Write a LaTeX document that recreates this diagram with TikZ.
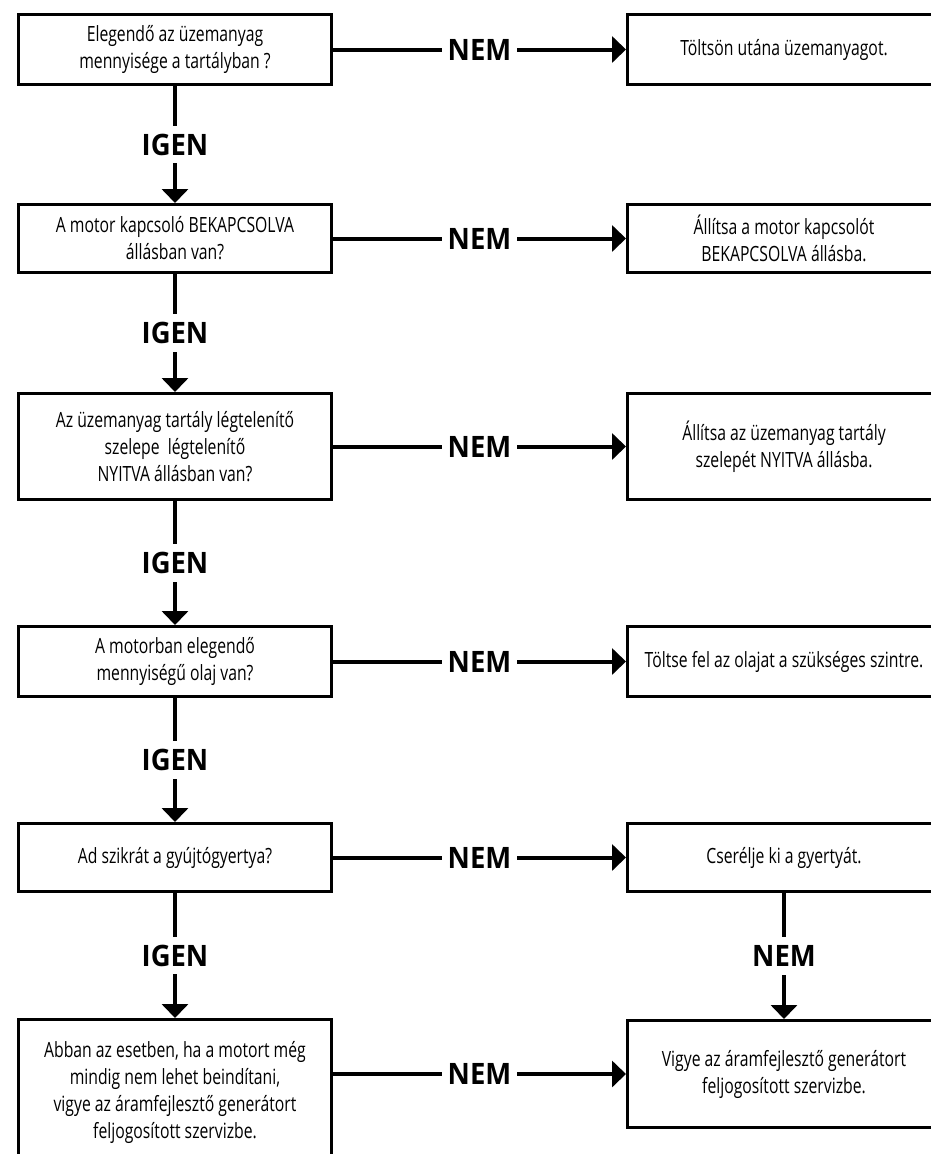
\documentclass[tikz,border=0pt]{standalone}
\usepackage{fontspec}
\setmainfont{Open Sans}
\newfontfamily\condfont[FakeStretch=0.75]{Open Sans}
\newfontfamily\boldcond[FakeStretch=0.93]{Open Sans Bold}
\usetikzlibrary{arrows.meta}
\begin{document}
\begin{tikzpicture}[x=1pt,y=-1pt,
  box/.style={draw,line width=3pt,minimum width=313pt,align=center,inner sep=0pt,
    font=\condfont\fontsize{21}{27}\selectfont},
  arr/.style={line width=4pt,-{Triangle[width=26pt,length=14pt]}},
  lbl/.style={fill=white,font=\boldcond\fontsize{29.5}{29.5}\selectfont,inner xsep=6pt,inner ysep=8pt}]
\useasboundingbox (0,0) rectangle (930,1154);
% left column
\node[box,minimum height=70pt] (L1) at (175,49.5) {Elegendő az üzemanyag\\mennyisége a tartályban ?};
\node[box,minimum height=68pt] (L2) at (175,238.5) {A motor kapcsoló BEKAPCSOLVA\\állásban van?};
\node[box,minimum height=106pt] (L3) at (175,446.5) {Az üzemanyag tartály légtelenítő\\szelepe\ \ légtelenítő\\NYITVA állásban van?};
\node[box,minimum height=70pt] (L4) at (175,661.5) {A motorban elegendő\\mennyiségű olaj van?};
\node[box,minimum height=68pt] (L5) at (175,857.5) {Ad szikrát a gyújtógyertya?};
\node[box,minimum height=145pt] (L6) at (175,1092) {Abban az esetben, ha a motort még\\mindig nem lehet beindítani,\\vigye az áramfejlesztő generátort\\feljogosított szervizbe.};
% right column
\node[box,minimum height=70pt] (R1) at (784,49.5) {Töltsön utána üzemanyagot.};
\node[box,minimum height=68pt] (R2) at (784,238.5) {Állítsa a motor kapcsolót\\BEKAPCSOLVA állásba.};
\node[box,minimum height=106pt] (R3) at (784,446.5) {Állítsa az üzemanyag tartály\\szelepét NYITVA állásba.};
\node[box,minimum height=70pt] (R4) at (784,661.5) {Töltse fel az olajat a szükséges szintre.};
\node[box,minimum height=68pt] (R5) at (784,857.5) {Cserélje ki a gyertyát.};
\node[box,minimum height=107pt] (R6) at (784,1074) {Vigye az áramfejlesztő generátort\\feljogosított szervizbe.};
% NEM arrows
\draw[arr] (L1) -- node[lbl]{NEM} (R1);
\draw[arr] (L2) -- node[lbl]{NEM} (R2);
\draw[arr] (L3) -- node[lbl]{NEM} (R3);
\draw[arr] (L4) -- node[lbl]{NEM} (R4);
\draw[arr] (L5) -- node[lbl]{NEM} (R5);
\draw[arr] (L6.east |- R6.west) -- node[lbl]{NEM} (R6.west);
\draw[arr] (R5) -- node[lbl]{NEM} (R6);
% IGEN arrows
\draw[arr] (L1) -- node[lbl]{IGEN} (L2);
\draw[arr] (L2) -- node[lbl]{IGEN} (L3);
\draw[arr] (L3) -- node[lbl]{IGEN} (L4);
\draw[arr] (L4) -- node[lbl]{IGEN} (L5);
\draw[arr] (L5) -- node[lbl]{IGEN} (L6);
\end{tikzpicture}
\end{document}
